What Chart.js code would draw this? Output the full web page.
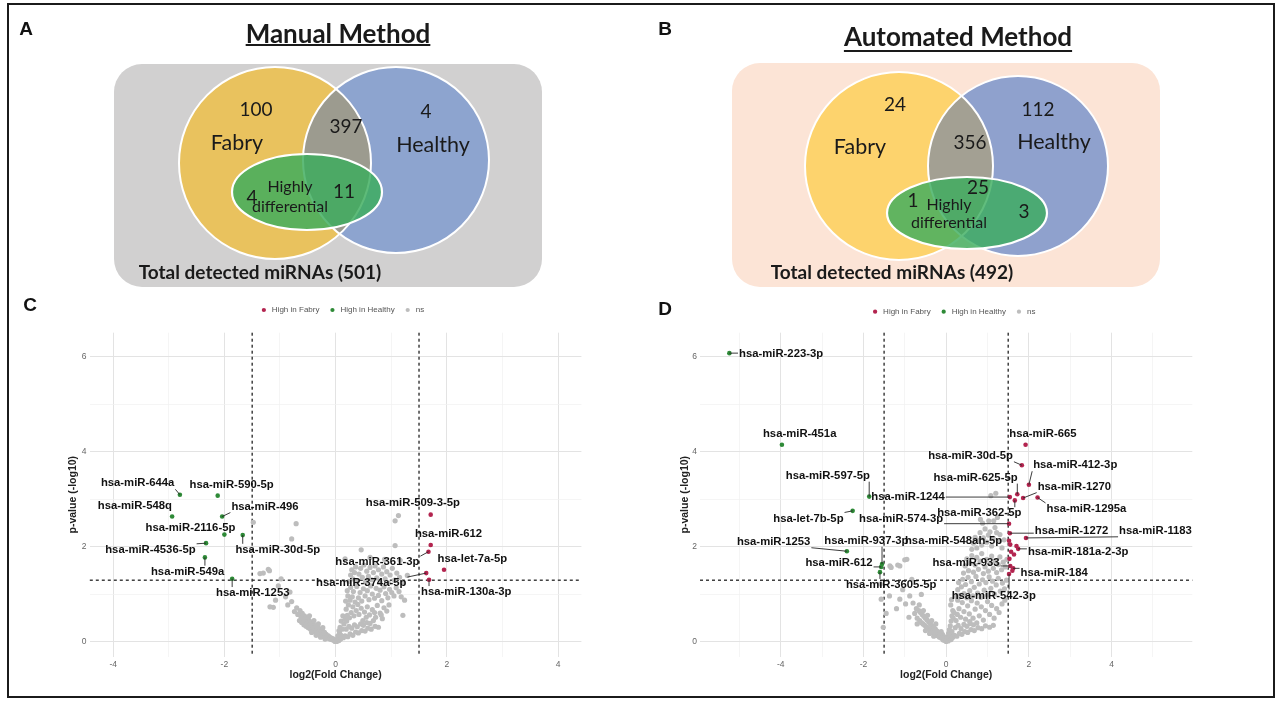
<!DOCTYPE html>
<html>
<head>
<meta charset="utf-8">
<title>miRNA detection: manual vs automated method</title>
<script src="https://cdn.jsdelivr.net/npm/chart.js@4.4.1/dist/chart.umd.min.js"></script>
<style>
  html, body { margin: 0; padding: 0; background: #fff; }
  #page { position: relative; width: 1280px; height: 708px; overflow: hidden; background: #fff; }
  canvas { position: absolute; }
  .frame { position: absolute; left: 7px; top: 3px; width: 1264px; height: 691px; border: 2px solid #1b1b1b; pointer-events: none; }
  .tag { position: absolute; font: bold 19px "Liberation Sans", Arial, sans-serif; color: #111; transform: translate(-50%, -50%); }
</style>
</head>
<body>
<div id="page">
  <canvas id="vennManual" width="640" height="295" style="left:0;top:0"></canvas>
  <canvas id="vennAuto" width="640" height="295" style="left:640px;top:0"></canvas>
  <canvas id="volcanoManual" width="581" height="400" style="left:40px;top:295px"></canvas>
  <canvas id="volcanoAuto" width="582" height="400" style="left:650px;top:295px"></canvas>
  <div class="tag" style="left:26px;top:29px">A</div>
  <div class="tag" style="left:665px;top:29px">B</div>
  <div class="tag" style="left:30px;top:305px">C</div>
  <div class="tag" style="left:665px;top:309px">D</div>
  <div class="frame"></div>
</div>
<script>
// ---- Venn counts: [Fabry only, Fabry & Healthy, Healthy only, HD in Fabry only, HD shared, HD in Healthy only]
const vennSetNames = ["Fabry", "Healthy", "Highly differential"];
const manualCounts = [100, 397, 4, 4, 11, null];
const manualTotal = 501;
const autoCounts = [24, 356, 112, 1, 25, 3];
const autoTotal = 492;

// ---- Volcano, manual method (panel C): log2 fold change and -log10 p-value
const manualFabryMiR = ["hsa-miR-509-3-5p", "hsa-miR-612", "hsa-miR-361-3p", "hsa-let-7a-5p", "hsa-miR-374a-5p", "hsa-miR-130a-3p"];
const manualFabryLog2FC = [1.71, 1.71, 1.67, 1.95, 1.63, 1.68];
const manualFabryLogP = [2.68, 2.04, 1.90, 1.52, 1.45, 1.31];

const manualHealthyMiR = ["hsa-miR-644a", "hsa-miR-590-5p", "hsa-miR-548q", "hsa-miR-496", "hsa-miR-2116-5p",
  "hsa-miR-30d-5p", "hsa-miR-4536-5p", "hsa-miR-549a", "hsa-miR-1253"];
const manualHealthyLog2FC = [-2.80, -2.12, -2.94, -2.04, -2.00, -1.67, -2.33, -2.35, -1.86];
const manualHealthyLogP = [3.10, 3.08, 2.64, 2.64, 2.26, 2.25, 2.08, 1.78, 1.33];

const manualNs = [
  // around the origin
  [0.01,0.02],[0.03,0.06],[-0.02,0.03],[0.04,0.13],[-0.04,0.04],[0.06,0.03],[-0.05,0.07],[0.07,0.19],
  [-0.07,0.05],[0.05,0.09],[-0.09,0.09],[0.09,0.06],[0.08,0.31],[-0.10,0.06],[0.11,0.12],[0.10,0.44],
  [-0.12,0.10],[0.12,0.27],[-0.13,0.13],[0.13,0.55],[0.14,0.09],[-0.14,0.08],[0.15,0.38],[0.02,0.01],
  [-0.01,0.01],[0.06,0.24],[-0.08,0.07],[0.09,0.15],
  // up-regulated side
  [0.17,0.13],[0.22,0.11],[0.26,0.17],[0.31,0.14],[0.36,0.21],[0.41,0.19],[0.47,0.24],[0.53,0.23],
  [0.58,0.29],[0.64,0.27],[0.71,0.33],[0.77,0.31],[0.19,0.27],[0.24,0.33],[0.29,0.29],[0.34,0.36],
  [0.39,0.32],[0.45,0.38],[0.50,0.35],[0.56,0.41],[0.62,0.39],[0.68,0.45],
  [0.17,0.48],[0.21,0.56],[0.20,0.44],[0.25,0.51],[0.28,0.62],[0.33,0.55],[0.37,0.66],[0.42,0.58],
  [0.46,0.71],[0.52,0.63],[0.57,0.74],[0.61,0.57],[0.66,0.68],[0.72,0.52],[0.75,0.77],[0.80,0.61],
  [0.84,0.49],[0.87,0.72],[0.92,0.65],[0.96,0.78],[0.19,0.69],[0.23,0.78],[0.31,0.74],[0.40,0.79],
  [0.49,0.45],[0.55,0.52],[0.70,0.62],[0.82,0.57],
  [0.18,0.86],[0.22,0.97],[0.21,1.08],[0.26,0.88],[0.27,1.15],[0.30,0.95],[0.32,1.06],[0.35,0.84],
  [0.38,1.17],[0.41,0.93],[0.44,1.04],[0.47,0.86],[0.50,1.12],[0.53,0.97],[0.57,1.08],[0.60,0.89],
  [0.63,1.18],[0.66,1.01],[0.70,0.92],[0.73,1.13],[0.77,0.98],[0.80,1.09],[0.83,0.87],[0.87,1.16],
  [0.90,1.02],[0.94,0.93],[0.97,1.11],[1.01,1.04],[1.05,0.97],[1.09,1.14],[1.14,1.06],[1.18,0.95],
  [0.24,1.27],[0.27,1.41],[0.29,1.52],[0.31,1.33],[0.34,1.46],[0.36,1.58],[0.39,1.29],[0.42,1.43],
  [0.45,1.55],[0.48,1.36],[0.51,1.62],[0.54,1.27],[0.56,1.49],[0.59,1.38],[0.62,1.57],[0.65,1.31],
  [0.68,1.46],[0.71,1.60],[0.74,1.35],[0.77,1.52],[0.80,1.26],[0.83,1.43],[0.86,1.58],[0.89,1.33],
  [0.92,1.48],[0.95,1.24],[0.98,1.41],[1.02,1.55],[1.06,1.30],[1.10,1.45],[1.15,1.36],[1.20,1.25],
  [1.24,0.88],[1.21,0.56],[1.29,1.40],
  [0.17,1.75],[0.46,1.94],[1.07,2.03],[1.07,2.55],[1.13,2.66],[0.62,1.78],[0.88,1.74],[1.16,1.72],
  // down-regulated side
  [-0.16,0.09],[-0.17,0.16],[-0.18,0.12],[-0.20,0.20],[-0.21,0.11],[-0.22,0.17],[-0.24,0.24],[-0.25,0.13],
  [-0.26,0.19],[-0.28,0.27],[-0.29,0.16],[-0.30,0.22],[-0.32,0.31],[-0.33,0.18],[-0.34,0.25],[-0.36,0.34],
  [-0.37,0.21],[-0.38,0.28],[-0.40,0.38],[-0.41,0.24],[-0.42,0.31],[-0.44,0.42],[-0.45,0.27],[-0.46,0.35],
  [-0.48,0.46],[-0.49,0.30],[-0.50,0.39],[-0.52,0.50],[-0.53,0.33],[-0.54,0.43],[-0.56,0.55],[-0.57,0.36],
  [-0.58,0.47],[-0.60,0.60],[-0.61,0.41],[-0.62,0.52],[-0.64,0.66],[-0.65,0.45],[-0.19,0.06],[-0.27,0.10],
  [-0.35,0.14],[-0.43,0.20],[-0.23,0.30],[-0.31,0.38],[-0.39,0.45],[-0.47,0.55],
  [-0.68,0.58],[-0.70,0.72],[-0.74,0.64],[-0.79,0.85],[-0.82,1.05],[-0.86,0.78],[-0.90,0.95],[-0.98,1.33],
  [-1.03,1.18],[-1.08,0.88],[-1.18,0.74],[-1.12,0.73],[-1.21,1.53],[-1.36,1.44],[-1.30,1.45],[-1.19,1.50],
  [-0.71,2.49],[-0.79,2.17],[-1.48,2.52]
];

// ---- Volcano, automated method (panel D)
const autoFabryMiR = ["hsa-miR-665", "hsa-miR-30d-5p", "hsa-miR-412-3p", "hsa-miR-625-5p", "hsa-miR-1270",
  "hsa-miR-1295a", "hsa-miR-1244", "hsa-miR-362-5p", "hsa-miR-574-3p", "hsa-miR-1272", "hsa-miR-1183",
  "hsa-miR-548ah-5p", "hsa-miR-181a-2-3p", "hsa-miR-933", "hsa-miR-184", "hsa-miR-542-3p",
  "", "", "", "", "", ""];
const autoFabryLog2FC = [1.92, 1.83, 2.00, 1.72, 1.86, 2.21, 1.54, 1.66, 1.52, 1.54, 1.93, 1.52, 1.74, 1.55, 1.62, 1.52,
  1.55, 1.57, 1.64, 1.53, 1.60, 1.70];
const autoFabryLogP = [4.15, 3.72, 3.31, 3.11, 3.03, 3.04, 3.05, 2.98, 2.49, 2.29, 2.19, 2.13, 1.96, 1.60, 1.55, 1.43,
  2.05, 1.90, 1.84, 1.75, 1.50, 2.02];

const autoHealthyMiR = ["hsa-miR-223-3p", "hsa-miR-451a", "hsa-miR-597-5p", "hsa-let-7b-5p", "hsa-miR-1253",
  "hsa-miR-937-3p", "hsa-miR-612", "hsa-miR-3605-5p"];
const autoHealthyLog2FC = [-5.24, -3.97, -1.86, -2.26, -2.40, -1.55, -1.57, -1.60];
const autoHealthyLogP = [6.08, 4.15, 3.06, 2.76, 1.91, 1.64, 1.58, 1.47];

const autoNs = [
  // around the origin
  [0.00,0.01],[0.02,0.04],[-0.02,0.03],[0.04,0.10],[-0.04,0.07],[0.05,0.02],[-0.06,0.12],[0.06,0.18],
  [-0.07,0.04],[0.08,0.08],[0.08,0.26],[-0.09,0.16],[0.10,0.14],[0.10,0.34],[-0.11,0.08],[0.12,0.05],
  [0.12,0.44],[-0.12,0.22],[0.14,0.22],[0.14,0.55],[-0.14,0.14],[0.16,0.66],[0.16,0.10],[0.11,0.78],
  [0.13,0.89],
  // up-regulated side
  [0.15,0.10],[0.20,0.14],[0.26,0.12],[0.32,0.18],[0.38,0.16],[0.45,0.22],[0.52,0.20],[0.60,0.26],
  [0.68,0.24],[0.77,0.30],[0.86,0.28],[0.95,0.34],[1.05,0.31],[1.14,0.35],[0.22,0.30],[0.29,0.35],
  [0.36,0.28],[0.43,0.37],[0.50,0.33],[0.58,0.39],[0.66,0.36],[0.74,0.40],
  [0.17,0.50],[0.19,0.62],[0.24,0.45],[0.27,0.58],[0.31,0.70],[0.35,0.52],[0.39,0.83],[0.43,0.64],
  [0.47,0.48],[0.52,0.76],[0.56,0.59],[0.61,0.87],[0.65,0.50],[0.70,0.69],[0.75,0.82],[0.80,0.55],
  [0.85,0.74],[0.90,0.46],[0.95,0.66],[1.00,0.85],[1.05,0.58],[1.10,0.77],[1.16,0.50],[1.22,0.70],
  [1.28,0.62],[1.35,0.80],[1.42,0.88],[0.28,0.88],[0.57,0.43],
  [0.25,0.95],[0.28,1.10],[0.30,1.25],[0.34,0.98],[0.37,1.16],[0.40,1.32],[0.43,1.02],[0.47,1.21],
  [0.50,0.93],[0.53,1.36],[0.57,1.08],[0.61,1.27],[0.64,0.97],[0.68,1.15],[0.72,1.38],[0.76,1.03],
  [0.80,1.22],[0.84,0.94],[0.88,1.31],[0.92,1.09],[0.96,1.25],[1.00,0.99],[1.04,1.37],[1.08,1.13],
  [1.12,1.28],[1.17,1.01],[1.21,1.20],[1.26,1.34],[1.31,1.07],[1.36,1.24],[1.41,1.12],[1.46,1.30],
  [0.42,1.45],[0.46,1.60],[0.50,1.75],[0.54,1.50],[0.58,1.66],[0.62,1.82],[0.66,1.47],[0.70,1.62],
  [0.74,1.78],[0.78,1.53],[0.82,1.70],[0.86,1.86],[0.90,1.44],[0.94,1.58],[0.98,1.74],[1.02,1.49],
  [1.06,1.65],[1.10,1.81],[1.14,1.55],[1.18,1.71],[1.22,1.46],[1.26,1.63],[1.30,1.79],[1.34,1.52],
  [1.38,1.68],[1.43,1.58],[1.47,1.74],
  [0.62,1.95],[0.66,2.08],[0.70,2.20],[0.74,1.98],[0.78,2.14],[0.82,2.30],[0.86,2.04],[0.90,2.19],
  [0.94,2.38],[0.98,2.10],[1.02,2.25],[1.06,2.32],[1.10,2.02],[1.14,2.18],[1.18,2.41],[1.22,2.30],
  [1.26,2.12],[1.30,2.26],[1.35,1.98],[1.40,2.15],[0.88,2.50],[1.03,2.55],[1.24,2.62],[0.83,2.58],
  [1.15,2.55],[1.08,3.08],[1.20,3.13],
  // down-regulated side
  [-0.16,0.10],[-0.18,0.18],[-0.20,0.13],[-0.22,0.23],[-0.24,0.15],[-0.26,0.27],[-0.28,0.18],[-0.30,0.30],
  [-0.32,0.20],[-0.34,0.34],[-0.36,0.23],[-0.38,0.38],[-0.40,0.26],[-0.42,0.42],[-0.44,0.29],[-0.46,0.46],
  [-0.48,0.32],[-0.50,0.50],[-0.52,0.35],[-0.54,0.54],[-0.56,0.38],[-0.58,0.58],[-0.60,0.41],[-0.62,0.62],
  [-0.64,0.45],[-0.66,0.66],[-0.70,0.50],[-0.72,0.70],[-0.25,0.38],[-0.35,0.45],[-0.45,0.56],[-0.55,0.66],
  [-0.65,0.78],[-0.30,0.12],[-0.40,0.18],[-0.50,0.24],
  [-0.76,0.60],[-0.80,0.82],[-0.83,1.32],[-0.88,0.97],[-0.90,0.52],[-0.95,1.74],[-0.98,0.80],[-1.00,1.73],
  [-1.05,1.10],[-1.12,1.60],[-1.12,0.90],[-1.17,1.62],[-1.20,0.70],[-1.33,1.57],[-1.36,1.60],[-1.37,0.97],
  [-1.45,0.60],[-1.52,0.31],[-1.57,0.90],[-1.59,1.22],[-0.70,0.38],[-0.60,1.00]
];

const fcCutoff = 1.5;      // |log2 FC|
const pCutoff = 1.3;       // -log10(0.05)
const volcanoYTicks = [0, 2, 4, 6];

// ---- layout only (label anchors in data units, venn geometry in px)
const manualLabelAt = {
  "hsa-miR-644a": [-3.56, 3.34], "hsa-miR-590-5p": [-1.87, 3.31], "hsa-miR-548q": [-3.61, 2.87],
  "hsa-miR-496": [-1.27, 2.85], "hsa-miR-2116-5p": [-2.61, 2.40], "hsa-miR-30d-5p": [-1.04, 1.94],
  "hsa-miR-4536-5p": [-3.33, 1.94], "hsa-miR-549a": [-2.66, 1.48], "hsa-miR-1253": [-1.49, 1.03],
  "hsa-miR-509-3-5p": [1.39, 2.92], "hsa-miR-612": [2.03, 2.27], "hsa-miR-361-3p": [0.75, 1.68],
  "hsa-let-7a-5p": [2.46, 1.75], "hsa-miR-374a-5p": [0.46, 1.24], "hsa-miR-130a-3p": [2.35, 1.05]
};
const autoLabelAt = {
  "hsa-miR-223-3p": [-3.99, 6.07], "hsa-miR-451a": [-3.54, 4.37], "hsa-miR-597-5p": [-2.86, 3.50],
  "hsa-let-7b-5p": [-3.33, 2.60], "hsa-miR-1253": [-4.17, 2.11], "hsa-miR-937-3p": [-1.93, 2.13],
  "hsa-miR-612": [-2.59, 1.66], "hsa-miR-3605-5p": [-1.33, 1.20], "hsa-miR-1244": [-0.92, 3.06],
  "hsa-miR-574-3p": [-1.09, 2.59], "hsa-miR-548ah-5p": [0.18, 2.13], "hsa-miR-665": [2.34, 4.38],
  "hsa-miR-30d-5p": [0.59, 3.92], "hsa-miR-412-3p": [3.12, 3.72], "hsa-miR-625-5p": [0.71, 3.46],
  "hsa-miR-1270": [3.10, 3.27], "hsa-miR-1295a": [3.39, 2.80], "hsa-miR-362-5p": [0.80, 2.71],
  "hsa-miR-1272": [3.03, 2.34], "hsa-miR-1183": [5.06, 2.34], "hsa-miR-181a-2-3p": [3.19, 1.89],
  "hsa-miR-933": [0.48, 1.66], "hsa-miR-184": [2.61, 1.45], "hsa-miR-542-3p": [1.15, 0.98]
};

const manualVennLayout = {
  title: "Manual Method", titleAt: [338, 35, 45],
  panel: { x0: 114, y0: 64, x1: 542, y1: 287, r: 28, fill: "#d1d0d0" },
  fabry: { cx: 275, cy: 163, r: 96, fill: "#e9c25e" },
  healthy: { cx: 396, cy: 160, r: 93, fill: "#8da4cf" },
  both: "#9c9b8f",
  hd: { cx: 307, cy: 192, rx: 75, ry: 38, fill: "rgba(58,172,92,0.82)" },
  countAt: [[256, 110], [346, 127], [426, 112], [252, 198], [344, 192], null],
  fabryAt: [237, 143], healthyAt: [433, 145], hdAt: [[290, 187], [290, 207]], totalAt: [260, 273]
};
const autoVennLayout = {
  title: "Automated Method", titleAt: [318, 38, 51],
  panel: { x0: 92, y0: 63, x1: 520, y1: 287, r: 28, fill: "#fce4d6" },
  fabry: { cx: 259, cy: 166, r: 94, fill: "#fdd36d" },
  healthy: { cx: 378, cy: 166, r: 90, fill: "#8fa1cd" },
  both: "#a3a093",
  hd: { cx: 327, cy: 213, rx: 80, ry: 36, fill: "rgba(58,172,92,0.80)" },
  countAt: [[255, 105], [330, 143], [398, 110], [273, 201], [338, 188], [384, 212]],
  fabryAt: [220, 147], healthyAt: [414, 142], hdAt: [[309, 205], [309, 223]], totalAt: [252, 273]
};

const FABRY_RED = "#b3244f";
const HEALTHY_GREEN = "#2e8a37";
const NS_GREY = "#bdbdbd";
const LABEL_FONT = 'bold 11.3px "Liberation Sans", Arial, sans-serif';

Chart.defaults.font.family = '"Liberation Sans", Arial, sans-serif';

// ---------------- venn panels ----------------
function roundedRect(ctx, x, y, w, h, r) {
  ctx.beginPath();
  ctx.moveTo(x + r, y);
  ctx.lineTo(x + w - r, y);
  ctx.arcTo(x + w, y, x + w, y + r, r);
  ctx.lineTo(x + w, y + h - r);
  ctx.arcTo(x + w, y + h, x + w - r, y + h, r);
  ctx.lineTo(x + r, y + h);
  ctx.arcTo(x, y + h, x, y + h - r, r);
  ctx.lineTo(x, y + r);
  ctx.arcTo(x, y, x + r, y, r);
  ctx.closePath();
}

function vennPlugin(counts, total, lay) {
  return {
    id: "venn",
    afterDraw(chart) {
      const { ctx, scales: { x, y } } = chart;
      const X = v => x.getPixelForValue(v);
      const Y = v => y.getPixelForValue(v);
      const L = v => X(v) - X(0);
      const circle = c => { ctx.beginPath(); ctx.arc(X(c.cx), Y(c.cy), L(c.r), 0, Math.PI * 2); };
      const p = lay.panel;

      ctx.save();
      roundedRect(ctx, X(p.x0), Y(p.y0), X(p.x1) - X(p.x0), Y(p.y1) - Y(p.y0), L(p.r));
      ctx.fillStyle = p.fill;
      ctx.fill();

      circle(lay.fabry); ctx.fillStyle = lay.fabry.fill; ctx.fill();
      circle(lay.healthy); ctx.fillStyle = lay.healthy.fill; ctx.fill();
      ctx.save();
      circle(lay.fabry); ctx.clip();
      circle(lay.healthy); ctx.fillStyle = lay.both; ctx.fill();
      ctx.restore();
      ctx.strokeStyle = "#fff";
      ctx.lineWidth = 2;
      circle(lay.fabry); ctx.stroke();
      circle(lay.healthy); ctx.stroke();

      const e = lay.hd;
      ctx.beginPath();
      ctx.ellipse(X(e.cx), Y(e.cy), L(e.rx), L(e.ry), 0, 0, Math.PI * 2);
      ctx.fillStyle = e.fill; ctx.fill();
      ctx.lineWidth = 2.2; ctx.stroke();

      ctx.fillStyle = "#1a1a1a";
      ctx.textAlign = "center";
      ctx.textBaseline = "middle";
      ctx.font = "21.5px Lato, sans-serif";
      ctx.fillText(vennSetNames[0], X(lay.fabryAt[0]), Y(lay.fabryAt[1]));
      ctx.fillText(vennSetNames[1], X(lay.healthyAt[0]), Y(lay.healthyAt[1]));
      ctx.font = "16px Lato, sans-serif";
      vennSetNames[2].split(" ").forEach((w, i) => ctx.fillText(w, X(lay.hdAt[i][0]), Y(lay.hdAt[i][1])));

      ctx.font = "19px Lato, sans-serif";
      counts.forEach((n, i) => {
        if (n === null) return;
        const at = lay.countAt[i];
        ctx.fillText(String(n), X(at[0]), Y(at[1]));
      });

      ctx.font = "bold 19px Lato, sans-serif";
      ctx.fillText("Total detected miRNAs (" + total + ")", X(lay.totalAt[0]), Y(lay.totalAt[1]));

      ctx.font = "bold 26px Lato, sans-serif";
      const t = lay.titleAt;
      ctx.fillText(lay.title, X(t[0]), Y(t[1]));
      const tw = ctx.measureText(lay.title).width;
      ctx.strokeStyle = "#1a1a1a";
      ctx.lineWidth = 2;
      ctx.beginPath();
      ctx.moveTo(X(t[0]) - tw / 2, Y(t[2]));
      ctx.lineTo(X(t[0]) + tw / 2, Y(t[2]));
      ctx.stroke();
      ctx.restore();
    }
  };
}

function vennChart(id, counts, total, lay) {
  const el = document.getElementById(id);
  return new Chart(el, {
    type: "scatter",
    data: { datasets: [] },
    options: {
      responsive: false, animation: false, events: [],
      layout: { padding: 0 },
      plugins: { legend: { display: false }, tooltip: { enabled: false } },
      scales: {
        x: { type: "linear", min: 0, max: el.width, display: false },
        y: { type: "linear", min: 0, max: el.height, reverse: true, display: false }
      }
    },
    plugins: [vennPlugin(counts, total, lay)]
  });
}

// ---------------- volcano panels ----------------
const cutoffLines = {
  id: "cutoffLines",
  beforeDatasetsDraw(chart) {
    const { ctx, chartArea: a, scales: { x, y } } = chart;
    ctx.save();
    ctx.strokeStyle = "#333";
    ctx.lineWidth = 1.4;
    ctx.setLineDash([3, 3]);
    [-fcCutoff, fcCutoff].forEach(v => {
      const px = x.getPixelForValue(v);
      ctx.beginPath(); ctx.moveTo(px, a.top); ctx.lineTo(px, a.bottom); ctx.stroke();
    });
    const py = y.getPixelForValue(pCutoff);
    ctx.beginPath(); ctx.moveTo(a.left, py); ctx.lineTo(a.right, py); ctx.stroke();
    ctx.restore();
  }
};

function repelLabels(points, labelAt) {
  return {
    id: "repelLabels",
    afterDatasetsDraw(chart) {
      const { ctx, scales: { x, y } } = chart;
      ctx.save();
      ctx.font = LABEL_FONT;
      ctx.textAlign = "center";
      ctx.textBaseline = "middle";
      ctx.strokeStyle = "#262626";
      ctx.lineWidth = 0.9;
      const placed = [];
      points.forEach(p => {
        const at = labelAt[p.name];
        if (!at) return;
        const px = x.getPixelForValue(p.x), py = y.getPixelForValue(p.y);
        const lx = x.getPixelForValue(at[0]), ly = y.getPixelForValue(at[1]);
        const hw = ctx.measureText(p.name).width / 2 + 1, hh = 6;
        const ex = Math.min(Math.max(px, lx - hw), lx + hw);
        const ey = Math.min(Math.max(py, ly - hh), ly + hh);
        if (Math.hypot(ex - px, ey - py) > 6) {
          ctx.beginPath(); ctx.moveTo(px, py); ctx.lineTo(ex, ey); ctx.stroke();
        }
        placed.push([p.name, lx, ly]);
      });
      ctx.fillStyle = "#111";
      placed.forEach(([name, lx, ly]) => ctx.fillText(name, lx, ly));
      ctx.restore();
    }
  };
}

function toPoints(names, fc, logp) {
  return fc.map((v, i) => ({ x: v, y: logp[i], name: names[i] }));
}

function volcanoChart(id, d) {
  const el = document.getElementById(id);
  const fabry = toPoints(d.fabryMiR, d.fabryFC, d.fabryP);
  const healthy = toPoints(d.healthyMiR, d.healthyFC, d.healthyP);
  const ns = d.ns.map(([fc, p]) => ({ x: fc, y: p }));
  const isMajor = c => c.tick && Math.abs(c.tick.value % 2) < 1e-9;
  const grid = {
    drawTicks: false,
    color: c => isMajor(c) ? "#e3e3e3" : "#f1f1f1",
    lineWidth: c => isMajor(c) ? 1 : 0.7
  };
  const spacer = (pos, size) => ({
    type: "linear", position: pos, display: true,
    grid: { display: false }, border: { display: false }, ticks: { display: false },
    afterFit: s => { if (pos === "top") s.height = size; else s.width = size; }
  });
  return new Chart(el, {
    type: "scatter",
    data: {
      datasets: [
        { label: "High in Fabry", data: fabry, backgroundColor: FABRY_RED, borderColor: FABRY_RED,
          pointRadius: 2.3, pointBorderWidth: 0, borderWidth: 0, xAxisID: "x", yAxisID: "y" },
        { label: "High in Healthy", data: healthy, backgroundColor: HEALTHY_GREEN, borderColor: HEALTHY_GREEN,
          pointRadius: 2.3, pointBorderWidth: 0, borderWidth: 0, xAxisID: "x", yAxisID: "y" },
        { label: "ns", data: ns, backgroundColor: NS_GREY, borderColor: NS_GREY,
          pointRadius: 2.6, pointBorderWidth: 0, borderWidth: 0, xAxisID: "x", yAxisID: "y" }
      ]
    },
    options: {
      responsive: false, animation: false, events: [],
      layout: { padding: { left: d.padLeft, right: 0, top: d.padTop, bottom: 11.7 } },
      plugins: {
        tooltip: { enabled: false },
        legend: {
          position: "top",
          labels: { usePointStyle: true, pointStyle: "circle", boxHeight: 3, padding: 9,
            color: "#555", font: { size: 8 } }
        }
      },
      scales: {
        x: {
          type: "linear", min: -d.xLim, max: d.xLim,
          grid, border: { display: false },
          ticks: { stepSize: 1, includeBounds: false, autoSkip: false, maxRotation: 0, padding: 3.3,
            color: "#666", font: { size: 8.5 }, callback: v => Math.abs(v % 2) < 1e-9 ? v : "" },
          title: { display: true, text: "log2(Fold Change)", color: "#222",
            font: { size: 10.5, weight: "bold" }, padding: { top: 0, bottom: 2 } },
          afterFit: s => { s.height = 26.6; }
        },
        y: {
          type: "linear", min: -0.31, max: 6.51,
          grid, border: { display: false },
          ticks: { stepSize: 1, includeBounds: false, autoSkip: false, padding: d.yTickPad,
            color: "#666", font: { size: 8.5 },
            callback: v => volcanoYTicks.includes(v) ? v : "" },
          title: { display: true, text: "p-value (-log10)", color: "#222",
            font: { size: 10.5, weight: "bold" }, padding: { top: 4, bottom: 0 } },
          afterFit: s => { s.width = d.yWidth; }
        },
        topSpace: spacer("top", d.topGap),
        rightSpace: spacer("right", d.rightGap)
      }
    },
    plugins: [cutoffLines, repelLabels(fabry.concat(healthy), d.labelAt)]
  });
}

vennChart("vennManual", manualCounts, manualTotal, manualVennLayout);
vennChart("vennAuto", autoCounts, autoTotal, autoVennLayout);

volcanoChart("volcanoManual", {
  fabryMiR: manualFabryMiR, fabryFC: manualFabryLog2FC, fabryP: manualFabryLogP,
  healthyMiR: manualHealthyMiR, healthyFC: manualHealthyLog2FC, healthyP: manualHealthyLogP,
  ns: manualNs, labelAt: manualLabelAt,
  xLim: 4.42, padLeft: 23, yWidth: 26.8, yTickPad: 3.3, padTop: 2, topGap: 8.7, rightGap: 39.6
});
volcanoChart("volcanoAuto", {
  fabryMiR: autoFabryMiR, fabryFC: autoFabryLog2FC, fabryP: autoFabryLogP,
  healthyMiR: autoHealthyMiR, healthyFC: autoHealthyLog2FC, healthyP: autoHealthyLogP,
  ns: autoNs, labelAt: autoLabelAt,
  xLim: 5.95, padLeft: 24.5, yWidth: 25.5, yTickPad: 3, padTop: 3.7, topGap: 7, rightGap: 39.7
});
</script>
</body>
</html>
